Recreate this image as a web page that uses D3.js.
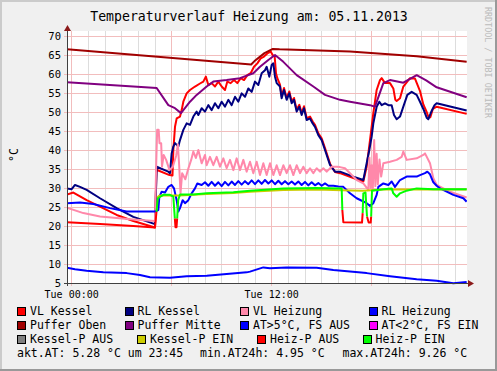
<!DOCTYPE html>
<html><head><meta charset="utf-8">
<script src="https://cdn.jsdelivr.net/npm/d3@7"></script>
<style>body{margin:0;background:#f0f0f0} svg{display:block} text{font-family:"DejaVu Sans Mono",monospace}</style>
</head><body><svg id="c" width="497" height="371"></svg>
<script>
const titleText = "Temperaturverlauf Heizung am: 05.11.2013";
const yLabel = "°C";
const watermark = "RRDTOOL / TOBI OETIKER";
const yTicks = [5,10,15,20,25,30,35,40,45,50,55,60,65,70];
const xMinorTicks = [0,1,2,3,4,5,6,7,8,9,10,11,12,13,14,15,16,17,18,19,20,21,22,23];
const xMajorTicks = [0,6,12,18];
const xLabelTicks = [0,12];
const xLabelText = ["Tue 00:00","Tue 12:00"];
const timeDomain = [-0.25, 23.75];
const valueDomain = [5, 70];

// series: [hour, °C]
const vlKessel = [[-0.25,28.3],[0.13,28.8],[0.93,26.8],[1.73,25.1],[2.73,22.9],[3.73,21.3],[5.03,19.6],[5.12,34.8],[5.9,33.4],[6.08,33.3],[6.13,40],[6.23,46.1],[6.33,48.3],[6.53,48.8],[6.63,50.5],[6.73,52.7],[6.93,54.9],[7.13,55.8],[7.43,56.7],[7.73,57.5],[7.93,58],[8.08,59.3],[8.23,57.1],[8.43,57.6],[8.63,56.7],[8.83,58],[9.03,56.7],[9.23,55.8],[9.37,58],[9.57,57.6],[9.77,58.4],[9.97,57.6],[10.17,58.9],[10.37,58.4],[10.57,59.7],[10.77,60.2],[10.97,61.9],[11.17,62.8],[11.37,64.1],[11.57,64.6],[11.77,65.4],[11.97,65.9],[12.09,65.0],[12.21,64.6],[12.29,60.2],[12.37,58.9],[12.53,57.2],[12.63,54.1],[12.77,56.3],[12.93,53.7],[13.09,55.4],[13.23,52.8],[13.37,53.7],[13.53,50.6],[13.69,51.9],[13.83,49.7],[13.97,51.5],[14.13,48.4],[14.33,48.8],[14.49,47.5],[14.63,46.6],[14.83,44.4],[15.03,43.1],[15.23,40.5],[15.53,36.4],[15.83,34.2],[16.13,33.9],[16.93,32.6],[17.53,31.7],[17.73,35.6],[17.93,42.6],[18.13,49.7],[18.33,55.8],[18.53,58.4],[18.63,58.9],[18.83,57.6],[19.13,57.6],[19.33,56.2],[19.45,53.2],[19.53,52.9],[19.73,53.6],[19.93,56.7],[20.13,57.8],[20.33,58.9],[20.63,58.8],[20.93,55.5],[21.13,52],[21.33,50],[21.45,48.5],[21.55,48.6],[21.7,50.8],[21.93,51.4],[23.73,49.5]];
const rlKessel = [[-0.25,29.9],[0.03,29.7],[0.23,30.8],[0.53,30.3],[0.93,29.5],[1.73,27.3],[2.73,24.7],[3.73,22.4],[5.03,20.5],[5.13,35.6],[5.83,34.3],[5.93,33.9],[6.03,39.1],[6.13,40.9],[6.23,41.8],[6.43,40.9],[6.53,42.6],[6.73,45.3],[6.93,47.0],[7.13,46.6],[7.33,48.8],[7.53,50.1],[7.63,49.2],[7.83,51.0],[8.03,50.1],[8.23,51.8],[8.43,50.5],[8.63,52.3],[8.83,51.0],[9.03,52.7],[9.23,51.4],[9.43,53.2],[9.63,51.8],[9.83,54.0],[10.03,52.7],[10.23,54.9],[10.43,54.0],[10.63,56.2],[10.83,55.3],[11.03,58.0],[11.23,57.1],[11.43,60.2],[11.63,61.0],[11.73,61.9],[11.89,59.3],[12.03,62.4],[12.13,62.8],[12.23,59.3],[12.33,57.6],[12.53,56.7],[12.63,53.6],[12.77,55.8],[12.93,53.2],[13.09,54.9],[13.23,52.3],[13.37,53.2],[13.53,50.1],[13.69,51.4],[13.83,49.2],[13.97,51.0],[14.13,47.9],[14.33,48.3],[14.49,47.0],[14.63,46.1],[14.83,43.9],[15.03,42.6],[15.23,40.0],[15.53,36.1],[15.83,34.3],[16.13,34.3],[16.93,33.0],[17.53,32.1],[17.73,36.5],[17.89,40.0],[18.03,43.5],[18.13,47.0],[18.23,49.2],[18.33,51.4],[18.49,52.7],[18.63,51.8],[18.83,52.3],[19.03,51.8],[19.23,51.8],[19.37,49.2],[19.53,48.1],[19.73,48.8],[19.93,51.4],[20.17,54.5],[20.43,55.3],[20.73,54.5],[20.93,52.7],[21.13,50.8],[21.33,48.5],[21.43,48.1],[21.6,50],[21.8,51.8],[21.93,52.3],[23.73,50.4]];
const vlHeizung = [[-0.25,24.8],[0.73,23.4],[1.73,22.5],[3.73,21.7],[5.03,21.3],[5.1,36.0],[5.16,45.3],[5.25,45.3],[5.3,41.8],[5.4,41.8],[5.45,35.6],[5.55,38.7],[5.7,37.4],[5.9,34.7],[6.1,35.6],[6.3,38.5],[6.4,41.5],[6.48,36.0],[6.56,28.6],[6.66,33.9],[6.85,32.3],[7.0,34.7],[7.2,37.4],[7.33,39.6],[7.48,37.9],[7.63,40.0],[7.83,36.5],[8.03,38.7],[8.13,36.0],[8.33,38.2],[8.53,36.0],[8.73,38.2],[8.93,35.6],[9.13,37.8],[9.33,35.2],[9.53,37.4],[9.73,34.7],[9.93,37.8],[10.13,34.7],[10.33,37.4],[10.53,34.3],[10.73,36.9],[10.93,33.9],[11.13,36.9],[11.33,33.4],[11.53,36.5],[11.73,33.4],[11.93,36.5],[12.13,33.4],[12.33,36.0],[12.53,33.4],[12.73,36.0],[12.93,33.9],[13.13,36.0],[13.33,33.4],[13.53,36.0],[13.73,33.9],[13.93,35.6],[14.13,33.9],[14.33,35.2],[14.53,33.9],[14.73,35.2],[14.93,34.3],[15.13,35.2],[15.33,34.3],[15.63,35.6],[15.93,35.6],[16.13,35.5],[16.43,35.2],[16.73,33.9],[17.13,32.1],[17.53,31.2],[17.83,29.5],[17.9,38.0],[17.97,30.0],[18.03,36.0],[18.1,29.7],[18.18,42.6],[18.25,30.5],[18.33,39.0],[18.4,31.0],[18.5,37.5],[18.6,33.0],[18.73,36.5],[19.13,36.9],[19.53,37.4],[19.83,38.2],[19.93,39.6],[20.13,37.4],[20.73,37.8],[21.13,38.7],[21.23,39.1],[21.53,36.5],[21.73,32.6],[21.93,30.8],[22.73,29.0],[23.73,27.5]];
const rlHeizung = [[-0.25,26.0],[0.53,26.2],[1.33,25.8],[2.33,24.7],[3.33,23.8],[5.03,23.8],[5.23,24.2],[5.29,27.7],[5.43,29.0],[5.63,28.8],[5.83,30.3],[6.03,30.8],[6.17,29.9],[6.33,26.8],[6.43,23.8],[6.53,24.7],[6.69,26.8],[6.83,26.0],[7.03,26.8],[7.23,28.6],[7.43,29.9],[7.57,31.2],[7.83,30.8],[8.03,31.5],[8.23,30.6],[8.43,31.6],[8.63,30.6],[8.83,31.5],[9.03,30.5],[9.23,31.6],[9.43,30.7],[9.63,31.7],[9.83,30.8],[10.03,31.8],[10.23,30.9],[10.43,31.8],[10.63,31.0],[10.83,32.0],[11.03,31.0],[11.23,32.0],[11.43,31.1],[11.63,32.1],[11.83,31.2],[12.03,32.0],[12.23,31.0],[12.43,31.9],[12.63,31.0],[12.83,31.8],[13.03,31.0],[13.23,31.7],[13.43,30.9],[13.63,31.7],[13.83,30.8],[14.03,31.6],[14.23,30.7],[14.43,31.5],[14.63,30.7],[14.83,31.3],[15.03,30.6],[15.23,31.2],[15.43,30.6],[15.73,30.6],[16.03,30.4],[16.33,30.3],[16.73,28.6],[17.13,27.3],[17.73,26.0],[17.93,25.3],[18.13,26.0],[18.33,28.2],[18.43,30.3],[18.73,31.2],[19.03,30.8],[19.23,31.7],[19.43,30.3],[19.73,32.1],[20.13,33.0],[20.73,33.0],[20.93,33.4],[21.23,33.9],[21.37,34.3],[21.53,33.6],[21.73,31.5],[21.93,30.6],[22.13,29.9],[22.93,28.2],[23.53,27.3],[23.73,26.4]];
const pufferOben = [[-0.25,66.5],[10.8,62.5],[11.0,63.4],[11.6,65.5],[12.1,66.6],[12.5,66.5],[16.73,65.9],[20.73,64.7],[23.73,63.2]];
const pufferMitte = [[-0.25,57.8],[5.13,56.3],[5.83,51.8],[6.23,51.0],[6.59,49.7],[7.13,52.7],[7.53,54.5],[8.13,56.7],[8.53,58.0],[9.33,58.4],[10.13,58.9],[10.93,60.2],[11.33,61.9],[11.83,63.7],[12.23,65.0],[12.73,63.2],[13.53,59.7],[14.53,56.7],[15.23,54.5],[16.13,53.2],[16.73,52.7],[17.93,51.8],[18.23,51.4],[18.73,57.6],[19.13,58.4],[19.93,57.7],[20.73,59.7],[21.3,58.3],[21.93,56.5],[23.73,53.9]];
const atAus = [[-0.25,9.0],[0.23,8.6],[0.93,8.2],[1.93,7.8],[3.33,7.6],[4.13,7.1],[4.73,6.5],[5.93,6.4],[6.93,6.8],[8.13,6.9],[9.33,7.4],[10.53,7.8],[10.73,8.0],[11.53,9.1],[11.93,8.9],[12.93,9.1],[14.73,9.0],[15.73,8.4],[17.73,7.6],[19.13,6.8],[20.73,6.0],[21.93,5.6],[22.93,4.95],[23.73,5.28]];
const kesselPEin = [[5.15,27.5],[5.3,28.0],[6.5,28.0],[7.33,28.2],[8.13,28.4],[9.73,28.7],[10.73,29.0],[12.73,29.5],[14.73,29.6],[16.23,29.4],[17.5,29.3],[18.73,29.6],[21.73,29.6],[23.73,29.6]];
const heizPAus = [[-0.25,21.0],[1.73,20.5],[3.73,20.0],[5.03,19.6],[5.12,23.8],[5.13,null],[6.22,22.0],[6.26,19.7],[6.32,19.7],[6.36,22.0],[6.37,null],[16.27,24.2],[16.33,21.0],[17.45,20.9],[17.49,23.4],[17.5,null],[17.75,22.5],[17.85,20.9],[17.97,20.9],[18.0,22.5]];
const heizPEin = [[5.12,23.8],[5.2,27.3],[5.53,28.2],[5.93,28.2],[6.13,27.7],[6.22,22.0],[6.23,null],[6.36,22.0],[6.42,26.8],[6.53,28.3],[7.33,28.3],[8.13,28.6],[9.73,28.9],[10.73,29.3],[12.73,29.9],[14.73,30.0],[16.23,29.9],[16.27,24.2],[16.28,null],[17.49,23.4],[17.53,28.6],[17.66,28.8],[17.75,22.5],[17.76,null],[18.0,22.5],[18.05,29.3],[18.73,29.7],[19.23,29.9],[19.33,28.6],[19.53,27.7],[19.73,28.6],[20.13,29.3],[20.73,29.9],[21.73,29.7],[23.73,29.7]];

const legendNames = ["VL Kessel","RL Kessel","VL Heizung","RL Heizung","Puffer Oben","Puffer Mitte","AT>5°C, FS AUS","AT<2°C, FS EIN","Kessel-P AUS","Kessel-P EIN","Heiz-P AUS","Heiz-P EIN"];
const legendColors = ["#FF0000","#000080","#FF88AA","#0000FF","#A00000","#800080","#0000FF","#FF00FF","#808080","#CCCC00","#FF0000","#00FF00"];
const seriesData = [vlKessel, rlKessel, vlHeizung, rlHeizung, pufferOben, pufferMitte, atAus, null, null, kesselPEin, heizPAus, heizPEin];
const statsText = ["akt.AT: 5.28 °C um 23:45","min.AT24h: 4.95 °C","max.AT24h: 9.26 °C"];

const W = 497, H = 371;
const svg = d3.select("#c");
const L = 67, R = 467, T = 36, B = 283;
const x = d3.scaleLinear().domain(timeDomain).range([L, R]);
const y = d3.scaleLinear().domain(valueDomain).range([B, T]);

// background + shade border
svg.append("rect").attr("width",W).attr("height",H).attr("fill","#F0F0F0");
svg.append("rect").attr("x",0).attr("y",0).attr("width",W).attr("height",2).attr("fill","#CBCBCB");
svg.append("rect").attr("x",0).attr("y",0).attr("width",2).attr("height",H).attr("fill","#CBCBCB");
svg.append("rect").attr("x",W-2).attr("y",0).attr("width",2).attr("height",H).attr("fill","#999999");
svg.append("rect").attr("x",0).attr("y",H-2).attr("width",W).attr("height",2).attr("fill","#999999");

// plot area
svg.append("rect").attr("x",L).attr("y",31).attr("width",R-L).attr("height",B-31).attr("fill","#FFFFFF");

const grid = svg.append("g").attr("shape-rendering","crispEdges");
grid.selectAll(".mn").data(xMinorTicks.filter(t=>!xMajorTicks.includes(t))).join("line")
  .attr("x1",d=>Math.round(x(d))+0.5).attr("x2",d=>Math.round(x(d))+0.5).attr("y1",31).attr("y2",B)
  .attr("stroke","#DDDDDD").attr("stroke-width",1);
grid.selectAll(".mj").data(xMajorTicks).join("line")
  .attr("x1",d=>Math.round(x(d))+0.5).attr("x2",d=>Math.round(x(d))+0.5).attr("y1",31).attr("y2",B+3)
  .attr("stroke","#F2BDBD").attr("stroke-width",1);
grid.selectAll(".hy").data(yTicks).join("line")
  .attr("x1",L-3).attr("x2",R).attr("y1",d=>Math.round(y(d))+0.5).attr("y2",d=>Math.round(y(d))+0.5)
  .attr("stroke","#F2BDBD").attr("stroke-width",1);

// series
svg.append("clipPath").attr("id","pc").append("rect").attr("x",L).attr("y",28).attr("width",R-L).attr("height",B-28+3);
const line = d3.line().defined(d=>d[1]!==null).x(d=>x(d[0])).y(d=>y(d[1]));
const gl = svg.append("g").attr("clip-path","url(#pc)");
seriesData.forEach((s,i)=>{
  if(!s) return;
  gl.append("path").attr("d",line(s)).attr("fill","none").attr("stroke",legendColors[i])
    .attr("stroke-width",2).attr("stroke-linejoin","round");
});

// axes
const ax = svg.append("g").attr("shape-rendering","crispEdges");
ax.append("line").attr("x1",L+0.5).attr("x2",L+0.5).attr("y1",30).attr("y2",B+3).attr("stroke","#404040");
ax.append("line").attr("x1",L-3).attr("x2",R+3).attr("y1",B+0.5).attr("y2",B+0.5).attr("stroke","#404040");
svg.append("path").attr("d",`M${L-3},${31} L${L+0.5},${25} L${L+4},${31} Z`).attr("fill","#8B1A1A");
svg.append("path").attr("d",`M${R+1},${B-3} L${R+7},${B+0.5} L${R+1},${B+4} Z`).attr("fill","#8B1A1A");

const yAxis = d3.axisLeft(y).tickValues(yTicks).tickSize(0).tickPadding(6).tickFormat(d3.format("d"));
const gy = svg.append("g").attr("transform",`translate(${L},0)`).call(yAxis);
gy.select(".domain").remove();
gy.selectAll("text").attr("font-size","10.5px").attr("fill","#000").attr("font-family","DejaVu Sans Mono");

const xAxis = d3.axisBottom(x).tickValues(xLabelTicks).tickSize(0).tickPadding(8).tickFormat((d,i)=>xLabelText[i]);
const gx = svg.append("g").attr("transform",`translate(0,${B})`).call(xAxis);
gx.select(".domain").remove();
gx.selectAll("text").attr("font-size","10px").attr("fill","#000").attr("font-family","DejaVu Sans Mono");

// title & labels
svg.append("text").attr("x",249).attr("y",21).attr("text-anchor","middle").attr("font-size","13.2px").attr("fill","#000").text(titleText);
svg.append("text").attr("transform","translate(17.5,155) rotate(-90)").attr("text-anchor","middle").attr("font-size","11.5px").attr("fill","#000").text(yLabel);
svg.append("text").attr("transform","translate(484.5,7) rotate(90)").attr("text-anchor","start").attr("font-size","8.4px").attr("fill","#BBBBBB").text(watermark);

// legend
const colX = [[17,124.5,240,368.5],[17,124.5,240,368.5],[17,137,257,362.5]];
const rowY = [315,329,343];
const lg = svg.append("g");
legendNames.forEach((n,i)=>{
  const r = Math.floor(i/4), c = i%4;
  const lx = colX[r][c], ly = rowY[r];
  lg.append("rect").attr("x",lx+0.5).attr("y",ly-7.5).attr("width",8).attr("height",8)
    .attr("fill",legendColors[i]).attr("stroke","#000").attr("stroke-width",1).attr("shape-rendering","crispEdges");
  lg.append("text").attr("x",lx+13).attr("y",ly).attr("font-size","11.5px").attr("fill","#000").text(n);
});
const statX = [17,200,342.5];
statsText.forEach((s,i)=>{
  lg.append("text").attr("x",statX[i]).attr("y",357).attr("font-size","11.5px").attr("fill","#000").text(s);
});
</script></body></html>
